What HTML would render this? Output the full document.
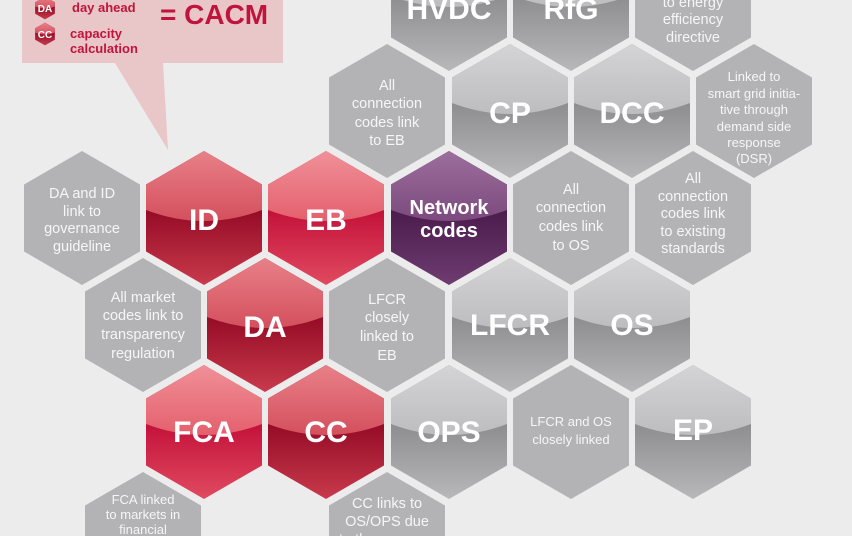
<!DOCTYPE html>
<html><head><meta charset="utf-8"><style>
html,body{margin:0;padding:0;background:#ececec;width:852px;height:536px;overflow:hidden;}
svg{display:block;}
.big{font-family:"Liberation Sans",sans-serif;font-weight:bold;font-size:30px;fill:#fff;text-anchor:middle;}
.sm{font-family:"Liberation Sans",sans-serif;font-size:14.5px;fill:#f6f6f6;text-anchor:middle;}
.xs{font-family:"Liberation Sans",sans-serif;font-size:13px;fill:#f6f6f6;text-anchor:middle;}
</style></head><body>
<svg width="852" height="536" viewBox="0 0 852 536" xmlns="http://www.w3.org/2000/svg" overflow="hidden">
<defs>
<polygon id="h" points="0,-67 58,-33.5 58,33.5 0,67 -58,33.5 -58,-33.5"/>
<path id="cap" d="M0,-67 L58,-33.5 L58,-8 Q0,14 -58,-8 L-58,-33.5Z"/>
<linearGradient id="gL" x1="0" y1="0" x2="0" y2="1"><stop offset="0.45" stop-color="#8e8e90"/><stop offset="1" stop-color="#b8b8ba"/></linearGradient>
<linearGradient id="gC" x1="0" y1="0" x2="0" y2="1"><stop offset="0" stop-color="#d4d4d6"/><stop offset="1" stop-color="#bdbdbf"/></linearGradient>
<linearGradient id="rL" x1="0" y1="0" x2="0" y2="1"><stop offset="0.45" stop-color="#960c26"/><stop offset="1" stop-color="#c83a4c"/></linearGradient>
<linearGradient id="rC" x1="0" y1="0" x2="0" y2="1"><stop offset="0" stop-color="#e88088"/><stop offset="1" stop-color="#d4505e"/></linearGradient>
<linearGradient id="bL" x1="0" y1="0" x2="0" y2="1"><stop offset="0.45" stop-color="#c4123a"/><stop offset="1" stop-color="#e04a60"/></linearGradient>
<linearGradient id="bC" x1="0" y1="0" x2="0" y2="1"><stop offset="0" stop-color="#f09098"/><stop offset="1" stop-color="#e4606e"/></linearGradient>
<linearGradient id="pL" x1="0" y1="0" x2="0" y2="1"><stop offset="0.45" stop-color="#4c1c4e"/><stop offset="1" stop-color="#6e3c70"/></linearGradient>
<linearGradient id="pC" x1="0" y1="0" x2="0" y2="1"><stop offset="0" stop-color="#9c6e9c"/><stop offset="1" stop-color="#7c4a7e"/></linearGradient>
</defs>
<rect width="852" height="536" fill="#ececec"/>

<polygon points="22,0 283,0 283,63 163,63 168,150 115,63 22,63" fill="#e9c6c8"/>
<g transform="translate(45,8) scale(0.17)"><use href="#h" fill="url(#rL)"/><use href="#cap" fill="url(#rC)"/></g>
<text x="45" y="12" font-family="Liberation Sans,sans-serif" font-weight="bold" font-size="10" fill="#fff" text-anchor="middle">DA</text>
<g transform="translate(45,34) scale(0.17)"><use href="#h" fill="url(#rL)"/><use href="#cap" fill="url(#rC)"/></g>
<text x="45" y="38" font-family="Liberation Sans,sans-serif" font-weight="bold" font-size="10" fill="#fff" text-anchor="middle">CC</text>
<g font-family="Liberation Sans,sans-serif" font-weight="bold" font-size="13" fill="#c0143c">
<text x="72" y="12">day ahead</text>
<text x="70" y="38">capacity</text>
<text x="70" y="53">calculation</text>
</g>
<text x="160" y="24" font-family="Liberation Sans,sans-serif" font-weight="bold" font-size="28" fill="#c0143c">= CACM</text>

<g fill="#b3b3b5">
<use href="#h" x="693" y="4"/>
<use href="#h" x="387" y="111"/>
<use href="#h" x="754" y="111"/>
<use href="#h" x="82" y="218"/>
<use href="#h" x="571" y="218"/>
<use href="#h" x="693" y="218"/>
<use href="#h" x="143" y="325"/>
<use href="#h" x="387" y="325"/>
<use href="#h" x="571" y="432"/>
<use href="#h" x="143" y="539"/>
<use href="#h" x="387" y="539"/>
</g>

<g transform="translate(449,4)"><use href="#h" fill="url(#gL)"/><use href="#cap" fill="url(#gC)"/></g>
<g transform="translate(571,4)"><use href="#h" fill="url(#gL)"/><use href="#cap" fill="url(#gC)"/></g>
<g transform="translate(510,111)"><use href="#h" fill="url(#gL)"/><use href="#cap" fill="url(#gC)"/></g>
<g transform="translate(632,111)"><use href="#h" fill="url(#gL)"/><use href="#cap" fill="url(#gC)"/></g>
<g transform="translate(510,325)"><use href="#h" fill="url(#gL)"/><use href="#cap" fill="url(#gC)"/></g>
<g transform="translate(632,325)"><use href="#h" fill="url(#gL)"/><use href="#cap" fill="url(#gC)"/></g>
<g transform="translate(449,432)"><use href="#h" fill="url(#gL)"/><use href="#cap" fill="url(#gC)"/></g>
<g transform="translate(693,432)"><use href="#h" fill="url(#gL)"/><use href="#cap" fill="url(#gC)"/></g>

<g transform="translate(204,218)"><use href="#h" fill="url(#rL)"/><use href="#cap" fill="url(#rC)"/></g>
<g transform="translate(326,218)"><use href="#h" fill="url(#bL)"/><use href="#cap" fill="url(#bC)"/></g>
<g transform="translate(265,325)"><use href="#h" fill="url(#rL)"/><use href="#cap" fill="url(#rC)"/></g>
<g transform="translate(204,432)"><use href="#h" fill="url(#bL)"/><use href="#cap" fill="url(#bC)"/></g>
<g transform="translate(326,432)"><use href="#h" fill="url(#rL)"/><use href="#cap" fill="url(#rC)"/></g>
<g transform="translate(449,218)"><use href="#h" fill="url(#pL)"/><use href="#cap" fill="url(#pC)"/></g>

<text class="big" x="449" y="19">HVDC</text>
<text class="big" x="571" y="19">RfG</text>
<text class="big" x="510" y="123">CP</text>
<text class="big" x="632" y="123">DCC</text>
<text class="big" x="204" y="230">ID</text>
<text class="big" x="326" y="230">EB</text>
<text class="big" x="449" y="214" style="font-size:20px">Network</text>
<text class="big" x="449" y="237" style="font-size:20px">codes</text>
<text class="big" x="265" y="337">DA</text>
<text class="big" x="510" y="335">LFCR</text>
<text class="big" x="632" y="335">OS</text>
<text class="big" x="204" y="442">FCA</text>
<text class="big" x="326" y="442">CC</text>
<text class="big" x="449" y="442">OPS</text>
<text class="big" x="693" y="440">EP</text>

<text class="sm" x="693" y="-11">Linked</text>
<text class="sm" x="693" y="7">to energy</text>
<text class="sm" x="693" y="24">efficiency</text>
<text class="sm" x="693" y="42">directive</text>

<text class="sm" x="387" y="90">All</text>
<text class="sm" x="387" y="108">connection</text>
<text class="sm" x="387" y="127">codes link</text>
<text class="sm" x="387" y="145">to EB</text>

<text class="xs" x="754" y="81">Linked to</text>
<text class="xs" x="754" y="98">smart grid initia-</text>
<text class="xs" x="754" y="114">tive through</text>
<text class="xs" x="754" y="131">demand side</text>
<text class="xs" x="754" y="147">response</text>
<text class="xs" x="754" y="163">(DSR)</text>

<text class="sm" x="82" y="198">DA and ID</text>
<text class="sm" x="82" y="216">link to</text>
<text class="sm" x="82" y="233">governance</text>
<text class="sm" x="82" y="251">guideline</text>

<text class="sm" x="571" y="194">All</text>
<text class="sm" x="571" y="212">connection</text>
<text class="sm" x="571" y="231">codes link</text>
<text class="sm" x="571" y="250">to OS</text>

<text class="sm" x="693" y="183">All</text>
<text class="sm" x="693" y="201">connection</text>
<text class="sm" x="693" y="218">codes link</text>
<text class="sm" x="693" y="236">to existing</text>
<text class="sm" x="693" y="253">standards</text>

<text class="sm" x="143" y="302">All market</text>
<text class="sm" x="143" y="320">codes link to</text>
<text class="sm" x="143" y="339">transparency</text>
<text class="sm" x="143" y="358">regulation</text>

<text class="sm" x="387" y="304">LFCR</text>
<text class="sm" x="387" y="322">closely</text>
<text class="sm" x="387" y="341">linked to</text>
<text class="sm" x="387" y="360">EB</text>

<text class="xs" x="571" y="426">LFCR and OS</text>
<text class="xs" x="571" y="444">closely linked</text>

<text class="xs" x="143" y="504">FCA linked</text>
<text class="xs" x="143" y="519">to markets in</text>
<text class="xs" x="143" y="534">financial</text>

<text class="sm" x="387" y="508">CC links to</text>
<text class="sm" x="387" y="526">OS/OPS due</text>
<text class="sm" x="387" y="544">to the common</text>
</svg>
</body></html>
